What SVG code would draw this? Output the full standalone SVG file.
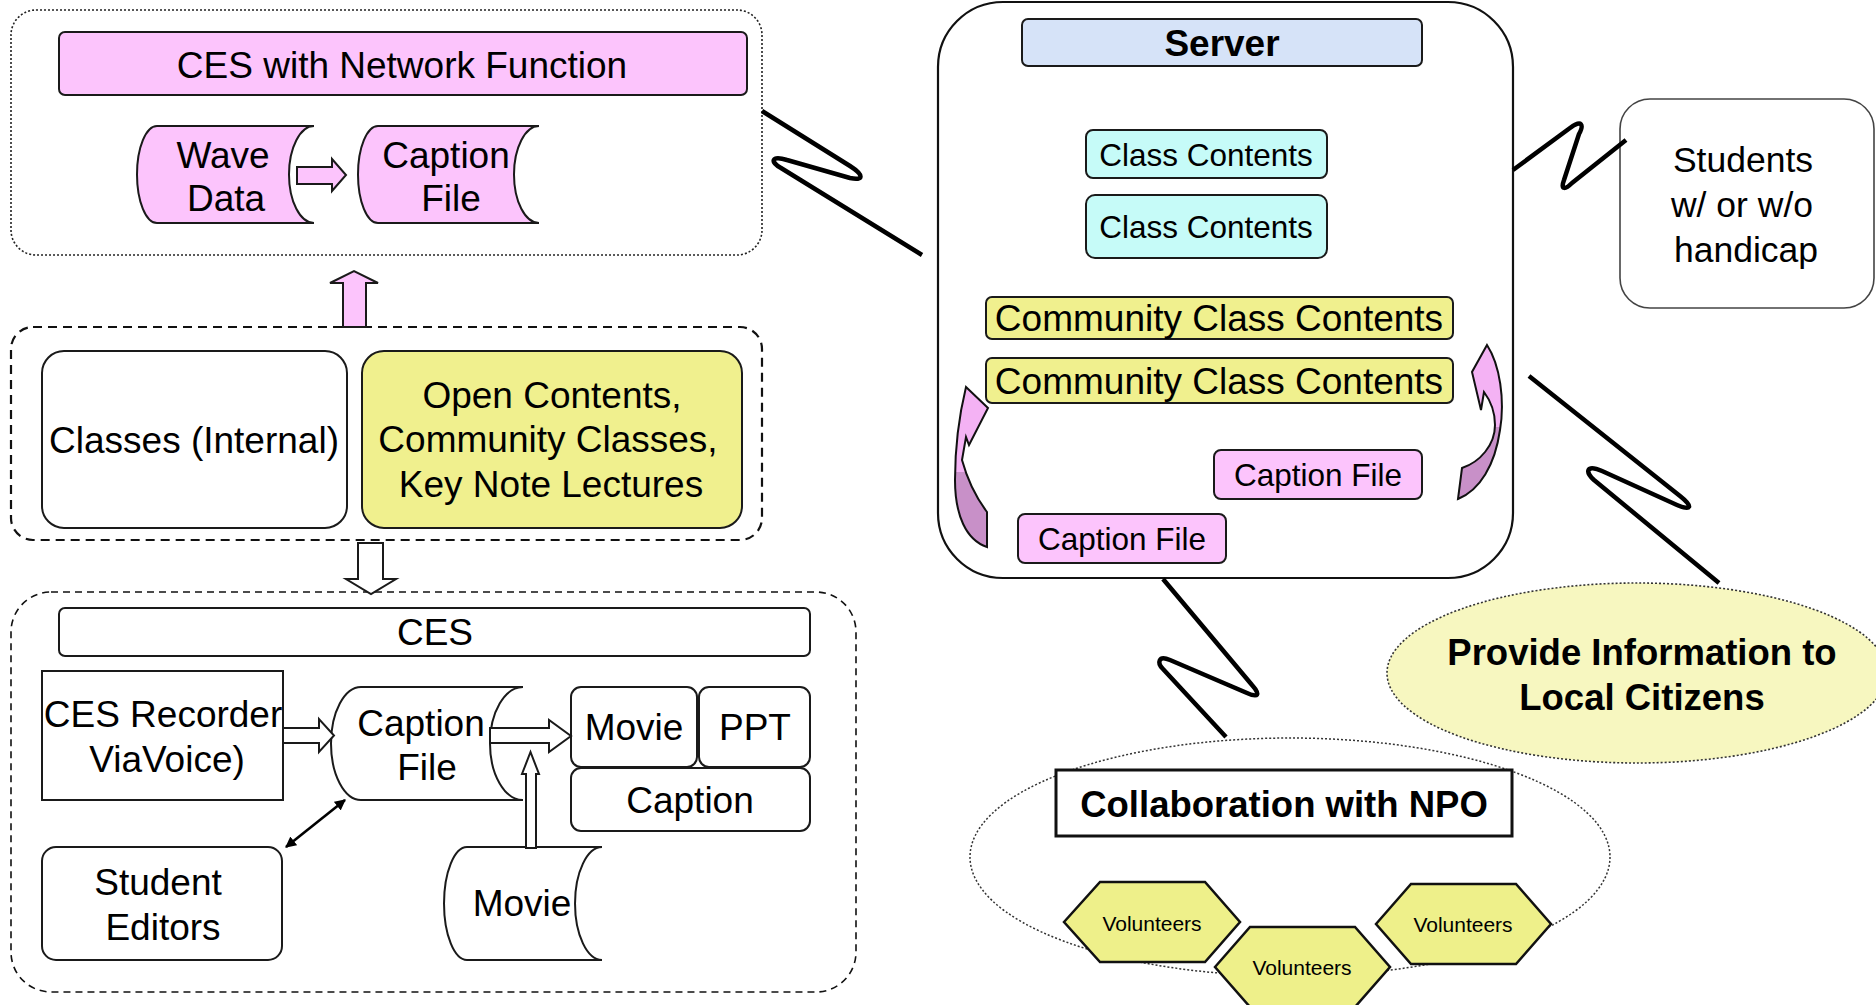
<svg xmlns="http://www.w3.org/2000/svg" width="1876" height="1005" viewBox="0 0 1876 1005">
<style>
.t{font-family:"Liberation Sans",Arial,sans-serif;fill:#000;text-anchor:middle}
.s36{font-size:37px}.s31{font-size:31.5px}.s37{font-size:37px}.s34{font-size:35.5px}.s21{font-size:21px}.sb{font-size:36.5px}
.b{font-weight:bold}
.bx{stroke:#1a1a1a;stroke-width:2}
.pink{fill:#fcc4fc}.yel{fill:#f0f08e}.cyan{fill:#c6fbf8}.wh{fill:#fff}
.bolt{fill:none;stroke:#000;stroke-width:4.5;stroke-linejoin:round;stroke-linecap:butt}
.dot{fill:none;stroke:#222;stroke-width:1.6;stroke-dasharray:2 2}
.dash{fill:none;stroke:#111;stroke-width:2.2;stroke-dasharray:9 6}
.dash2{fill:none;stroke:#111;stroke-width:1.6;stroke-dasharray:7 5}
.hex{fill:#eef08a;stroke:#111;stroke-width:2.5}
</style>
<defs>
<marker id="ah" viewBox="0 0 10 10" refX="9" refY="5" markerWidth="11" markerHeight="11" orient="auto-start-reverse" markerUnits="userSpaceOnUse">
<path d="M0,0 L10,5 L0,10 Z" fill="#000"/>
</marker>
<linearGradient id="twist" x1="0" y1="0" x2="0" y2="1">
<stop offset="0.53" stop-color="#f4b2f4"/>
<stop offset="0.53" stop-color="#c890c8"/>
</linearGradient>
</defs>

<!-- containers -->
<g id="top-container">
<rect x="11" y="10" width="751" height="245" rx="25" class="dot"/>
</g>
<g id="middle-container">
<rect x="11" y="327" width="751" height="213" rx="22" class="dash"/>
</g>
<g id="bottom-container">
<rect x="11" y="592" width="845" height="400" rx="40" class="dash2"/>
</g>

<!-- top section -->
<g id="ces-network">
<rect x="59" y="32" width="688" height="63" rx="6" class="bx pink"/>
<text x="402" y="78" class="t s36">CES with Network Function</text>
</g>
<g id="wave-data">
<path d="M157,126 H314 A25,48.5 0 0 0 314,223 H157 A20,48.5 0 0 1 157,126 Z" class="bx pink"/>
<text x="223" y="168" class="t s36">Wave</text>
<text x="226" y="211" class="t s36">Data</text>
</g>
<g id="caption-file-top">
<path d="M378,126 H539 A25,48.5 0 0 0 539,223 H378 A20,48.5 0 0 1 378,126 Z" class="bx pink"/>
<text x="446" y="168" class="t s36">Caption</text>
<text x="451" y="211" class="t s36">File</text>
</g>

<!-- middle section -->
<g id="classes-internal">
<rect x="42" y="351" width="305" height="177" rx="22" class="bx wh"/>
<text x="194" y="453" class="t s36">Classes (Internal)</text>
</g>
<g id="open-contents">
<rect x="362" y="351" width="380" height="177" rx="22" class="bx yel"/>
<text x="552" y="408" class="t s36">Open Contents,</text>
<text x="548" y="452" class="t s36">Community Classes,</text>
<text x="551" y="497" class="t s36">Key Note Lectures</text>
</g>

<!-- bottom section -->
<g id="ces">
<rect x="59" y="608" width="751" height="48" rx="6" class="bx wh"/>
<text x="435" y="645" class="t s36">CES</text>
</g>
<g id="ces-recorder">
<rect x="42" y="671" width="241" height="129" class="bx wh"/>
<text x="163" y="727" class="t s36">CES Recorder</text>
<text x="167" y="772" class="t s36">ViaVoice)</text>
</g>
<g id="caption-file-bottom">
<path d="M361,687 H523 A33,56.5 0 0 0 523,800 H361 A30,56.5 0 0 1 361,687 Z" class="bx wh"/>
<text x="421" y="736" class="t s36">Caption</text>
<text x="427" y="780" class="t s36">File</text>
</g>
<g id="movie-box">
<rect x="571" y="687" width="126" height="80" rx="10" class="bx wh"/>
<text x="634" y="740" class="t s36">Movie</text>
</g>
<g id="ppt-box">
<rect x="699" y="687" width="111" height="80" rx="10" class="bx wh"/>
<text x="755" y="740" class="t s36">PPT</text>
</g>
<g id="caption-box">
<rect x="571" y="768" width="239" height="63" rx="10" class="bx wh"/>
<text x="690" y="813" class="t s36">Caption</text>
</g>
<g id="student-editors">
<rect x="42" y="847" width="240" height="113" rx="14" class="bx wh"/>
<text x="158" y="895" class="t s36">Student</text>
<text x="163" y="940" class="t s36">Editors</text>
</g>
<g id="movie-doc">
<path d="M467,847 H602 A27,56.5 0 0 0 602,960 H467 A23,56.5 0 0 1 467,847 Z" class="bx wh"/>
<text x="522" y="916" class="t s36">Movie</text>
</g>

<!-- server -->
<g id="server">
<rect x="938" y="2" width="575" height="576" rx="65" fill="#fff" stroke="#111" stroke-width="2.2"/>
<rect x="1022" y="19" width="400" height="47" rx="6" fill="#d6e3f8" class="bx"/>
<text x="1222" y="56" class="t s37 b">Server</text>
</g>
<g id="class-contents-1">
<rect x="1086" y="130" width="241" height="48" rx="7" class="bx cyan"/>
<text x="1206" y="166" class="t s31">Class Contents</text>
</g>
<g id="class-contents-2">
<rect x="1086" y="195" width="241" height="63" rx="9" class="bx cyan"/>
<text x="1206" y="238" class="t s31">Class Contents</text>
</g>
<g id="community-1">
<rect x="986" y="297" width="467" height="42" rx="6" class="bx yel"/>
<text x="1219" y="331" class="t s37">Community Class Contents</text>
</g>
<g id="community-2">
<rect x="986" y="358" width="467" height="45" rx="6" class="bx yel"/>
<text x="1219" y="394" class="t s37">Community Class Contents</text>
</g>
<g id="caption-file-s1">
<rect x="1214" y="450" width="208" height="49" rx="7" class="bx pink"/>
<text x="1318" y="486" class="t s31">Caption File</text>
</g>
<g id="caption-file-s2">
<rect x="1018" y="514" width="208" height="49" rx="7" class="bx pink"/>
<text x="1122" y="550" class="t s31">Caption File</text>
</g>
<g id="curved-arrow-left">
<path d="M966,387 L988,408 L969,445 L966,437 L962,460 C968,482 978,500 987,512 L987,547 C966,540 955,515 955,480 C955,450 958,420 966,387 Z" fill="url(#twist)" stroke="#111" stroke-width="2"/>
</g>
<g id="curved-arrow-right">
<path d="M1487,345 C1500,365 1505,400 1500,430 C1495,465 1480,490 1458,499 L1462,468 C1480,462 1495,445 1495,425 C1495,410 1490,400 1484,392 L1481,410 L1472,372 Z" fill="url(#twist)" stroke="#111" stroke-width="2"/>
</g>

<!-- right side nodes -->
<g id="students">
<rect x="1620" y="99" width="254" height="209" rx="30" fill="#fff" stroke="#444" stroke-width="1.6"/>
<text x="1743" y="172" class="t s34">Students</text>
<text x="1742" y="217" class="t s34">w/ or w/o</text>
<text x="1746" y="262" class="t s34">handicap</text>
</g>
<g id="citizens">
<ellipse cx="1637" cy="673" rx="250" ry="90" fill="#f7f7c0" stroke="#333" stroke-width="1.6" stroke-dasharray="2 2"/>
<text x="1642" y="665" class="t sb b">Provide Information to</text>
<text x="1642" y="710" class="t sb b">Local Citizens</text>
</g>
<g id="npo">
<ellipse cx="1290" cy="857" rx="320" ry="119" fill="none" stroke="#333" stroke-width="1.5" stroke-dasharray="2 2"/>
<rect x="1056" y="770" width="456" height="66" fill="#fff" stroke="#111" stroke-width="3"/>
<text x="1284" y="817" class="t sb b">Collaboration with NPO</text>
</g>
<g id="volunteers-1">
<polygon points="1064,922 1100,882 1205,882 1240,922 1205,962 1100,962" class="hex"/>
<text x="1152" y="931" class="t s21">Volunteers</text>
</g>
<g id="volunteers-2">
<polygon points="1215,967 1250,927 1355,927 1390,967 1355,1007 1250,1007" class="hex"/>
<text x="1302" y="975" class="t s21">Volunteers</text>
</g>
<g id="volunteers-3">
<polygon points="1376,924 1411,884 1516,884 1551,924 1516,964 1411,964" class="hex"/>
<text x="1463" y="932" class="t s21">Volunteers</text>
</g>

<!-- connectors -->
<g id="connectors">
<polygon points="297,167 332,167 332,159 346,175 332,191 332,184 297,184" class="bx pink" stroke-width="1.8"/>
<polygon points="343,327 343,283 330,283 354,271 378,283 366,283 366,327" class="bx pink" stroke-width="1.8"/>
<polygon points="358,543 383,543 383,579 396,579 371,594 346,579 358,579" class="bx wh" stroke-width="1.8"/>
<polygon points="283,728 319,728 319,719 334,735.5 319,752 319,743 283,743" class="bx wh" stroke-width="1.8"/>
<polygon points="490,728 549,728 549,720 571,736 549,752 549,743 490,743" class="bx wh" stroke-width="1.8"/>
<polygon points="526,848 526,774 522,774 530.5,752 539,774 536,774 536,848" class="bx wh" stroke-width="1.8"/>
<line x1="286" y1="847" x2="345" y2="800" stroke="#000" stroke-width="2.6" marker-start="url(#ah)" marker-end="url(#ah)"/>
<path class="bolt" d="M762,111 L850,166 C864,175 864,181 850,178 L787,160 C771,155 770,162 781,168 L922,255"/>
<path class="bolt" d="M1513,170 L1570,128 C1582,119 1584,125 1579,134 L1564,180 C1560,191 1566,189 1572,183 L1626,140"/>
<path class="bolt" d="M1529,376 L1680,496 C1694,507 1691,511 1677,505 L1602,471 C1586,464 1585,472 1594,480 L1719,583"/>
<path class="bolt" d="M1163,579 L1252,685 C1261,695 1258,698 1247,693 L1170,660 C1158,655 1157,663 1163,669 L1226,737"/>
</g>
</svg>
